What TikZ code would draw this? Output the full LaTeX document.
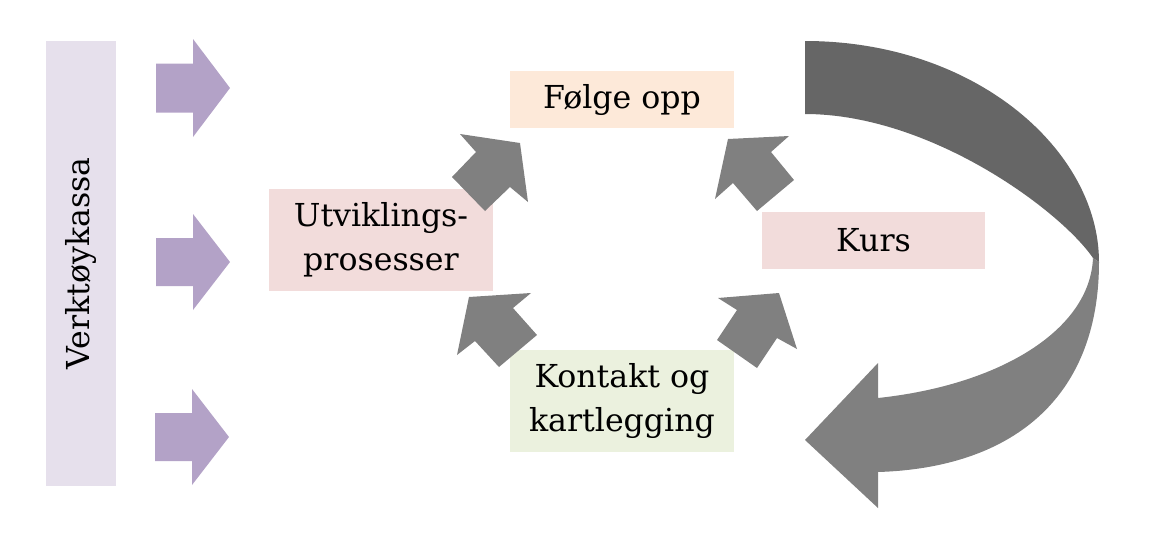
\documentclass[tikz,border=0pt]{standalone}
\usepackage{fontspec}
\setmainfont{DejaVu Serif}
\usepackage{tikz}
\definecolor{lavendel}{HTML}{E6E0EC}
\definecolor{lilla}{HTML}{B3A2C7}
\definecolor{fersken}{HTML}{FDE9D9}
\definecolor{rosa}{HTML}{F2DCDB}
\definecolor{lysgronn}{HTML}{EBF1DE}
\definecolor{morkgraa}{HTML}{666666}
\definecolor{graa}{HTML}{808080}
\tikzset{
  boks/.style={align=center,inner sep=2pt,text=black,
               font=\fontsize{18}{25}\selectfont,minimum width=4.48cm},
  pil/.style={fill=graa,draw=none},
  lillapil/.style={fill=lilla,draw=none},
}

\begin{document}
\begin{tikzpicture}[x=0.02cm,y=-0.02cm]
  \useasboundingbox (0,0) rectangle (1161,542);

  % ---------- VERKTOYKASSA ----------
  \node[fill=lavendel,rotate=90,minimum width=8.9cm,minimum height=1.4cm,
        inner sep=0pt,font=\fontsize{18}{25}\selectfont] (alat) at (81,263.5) {Verktøykassa};

  \fill[lillapil] (156,63.5) -- (193,63.5) -- (193,39) -- (230,88) -- (193,137) -- (193,112.5) -- (156,112.5) -- cycle;
  \fill[lillapil] (156,238) -- (193,238) -- (193,214) -- (230,262) -- (193,310) -- (193,286) -- (156,286) -- cycle;
  \fill[lillapil] (155,413) -- (192,413) -- (192,389) -- (229,437) -- (192,485) -- (192,461) -- (155,461) -- cycle;

  % ---------- BOKSER ----------
  \node[boks,fill=fersken,minimum height=1.14cm]   (folge)   at (622,99.5) {Følge opp};
  \node[boks,fill=rosa,minimum height=2.04cm]      (utvikl)  at (381,240)  {Utviklings-\\prosesser};
  \node[boks,fill=rosa,minimum width=4.46cm,minimum height=1.14cm] (kurs) at (873.5,240.5) {Kurs};
  \node[boks,fill=lysgronn,minimum height=2.04cm]  (kontakt) at (622,401)  {Kontakt og\\kartlegging};

  % ---------- PILER ----------
  \fill[pil] (520,143) -- (528,202) -- (510,187) -- (485,211) -- (452,177) -- (476,152) -- (460,134) -- cycle;
  \fill[pil] (728,139) -- (789,136) -- (771,152) -- (794,180) -- (757,211) -- (733,183) -- (715,199) -- cycle;
  \fill[pil] (469,297) -- (531,293) -- (513,308) -- (537,335) -- (499,367) -- (475,341) -- (457,355) -- cycle;
  \fill[pil] (779,293) -- (797,349) -- (777,338) -- (757,368) -- (717,340) -- (737,310) -- (718,298) -- cycle;

  % ---------- STOR BUET PIL ----------
  \fill[morkgraa] (805,41) .. controls (975,41) and (1099,150) .. (1099,262)
        -- (1093,258) .. controls (1060,210) and (930,114) .. (805,114) -- cycle;
  \fill[graa] (1099,262) .. controls (1099,400) and (1010,468) .. (878,472)
        -- (878,508) -- (805,440) -- (878,363) -- (878,398)
        .. controls (1000,385) and (1090,330) .. (1093,258) -- cycle;

\end{tikzpicture}
\end{document}
